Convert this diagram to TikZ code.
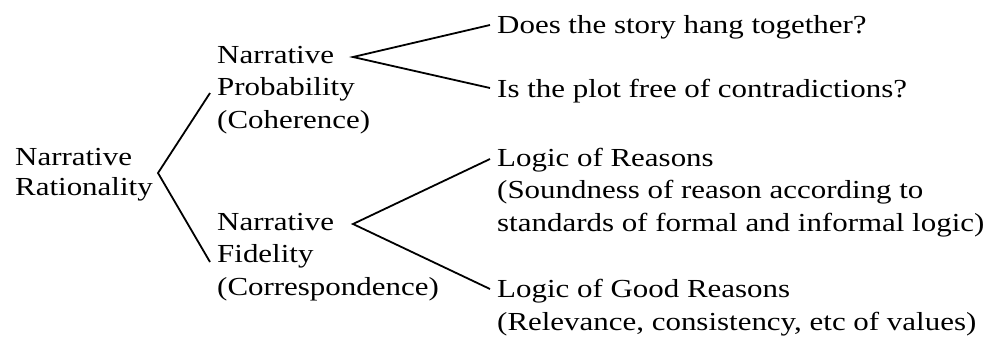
\documentclass[tikz,border=0pt]{standalone}
\usepackage{fontspec}
\setmainfont{Liberation Serif}[FakeStretch=1.19]
\begin{document}
\begin{tikzpicture}[x=1pt, y=-1pt,
    txt/.style={anchor=base west, align=left, inner sep=0pt,
        font=\fontsize{26}{32.5}\selectfont},
    fork/.style={line width=1.8pt, line join=miter}]
    \useasboundingbox (0,0) rectangle (984,341);

    % Wurzel (base = Grundlinie der letzten Zeile)
    \node[txt, font=\fontsize{26}{30}\selectfont] (rationality) at (15,195) {Narrative\\Rationality};
    \coordinate (ratFork) at (158,173);
    \coordinate (probIn) at (210,93);
    \coordinate (fidIn) at (210,262);
    \draw[fork] (probIn) -- (ratFork) -- (fidIn);

    % Probability
    \node[txt] (probability) at (217,128) {Narrative\\Probability\\(Coherence)};
    \coordinate (probFork) at (353,57);
    \coordinate (doesIn) at (490,25);
    \coordinate (plotIn) at (490,88);
    \draw[fork] (doesIn) -- (probFork) -- (plotIn);
    \node[txt] (does) at (497,33) {Does the story hang together?};
    \node[txt] (plot) at (497,97) {Is the plot free of contradictions?};

    % Fidelity
    \node[txt] (fidelity) at (217,295) {Narrative\\Fidelity\\(Correspondence)};
    \coordinate (fidFork) at (353,224);
    \coordinate (reasonsIn) at (490,159);
    \coordinate (goodIn) at (490,289);
    \draw[fork] (reasonsIn) -- (fidFork) -- (goodIn);
    \node[txt] (reasons) at (497,231) {Logic of Reasons\\(Soundness of reason according to\\standards of formal and informal logic)};
    \node[txt] (good) at (497,330) {Logic of Good Reasons\\(Relevance, consistency, etc of values)};
\end{tikzpicture}
\end{document}
